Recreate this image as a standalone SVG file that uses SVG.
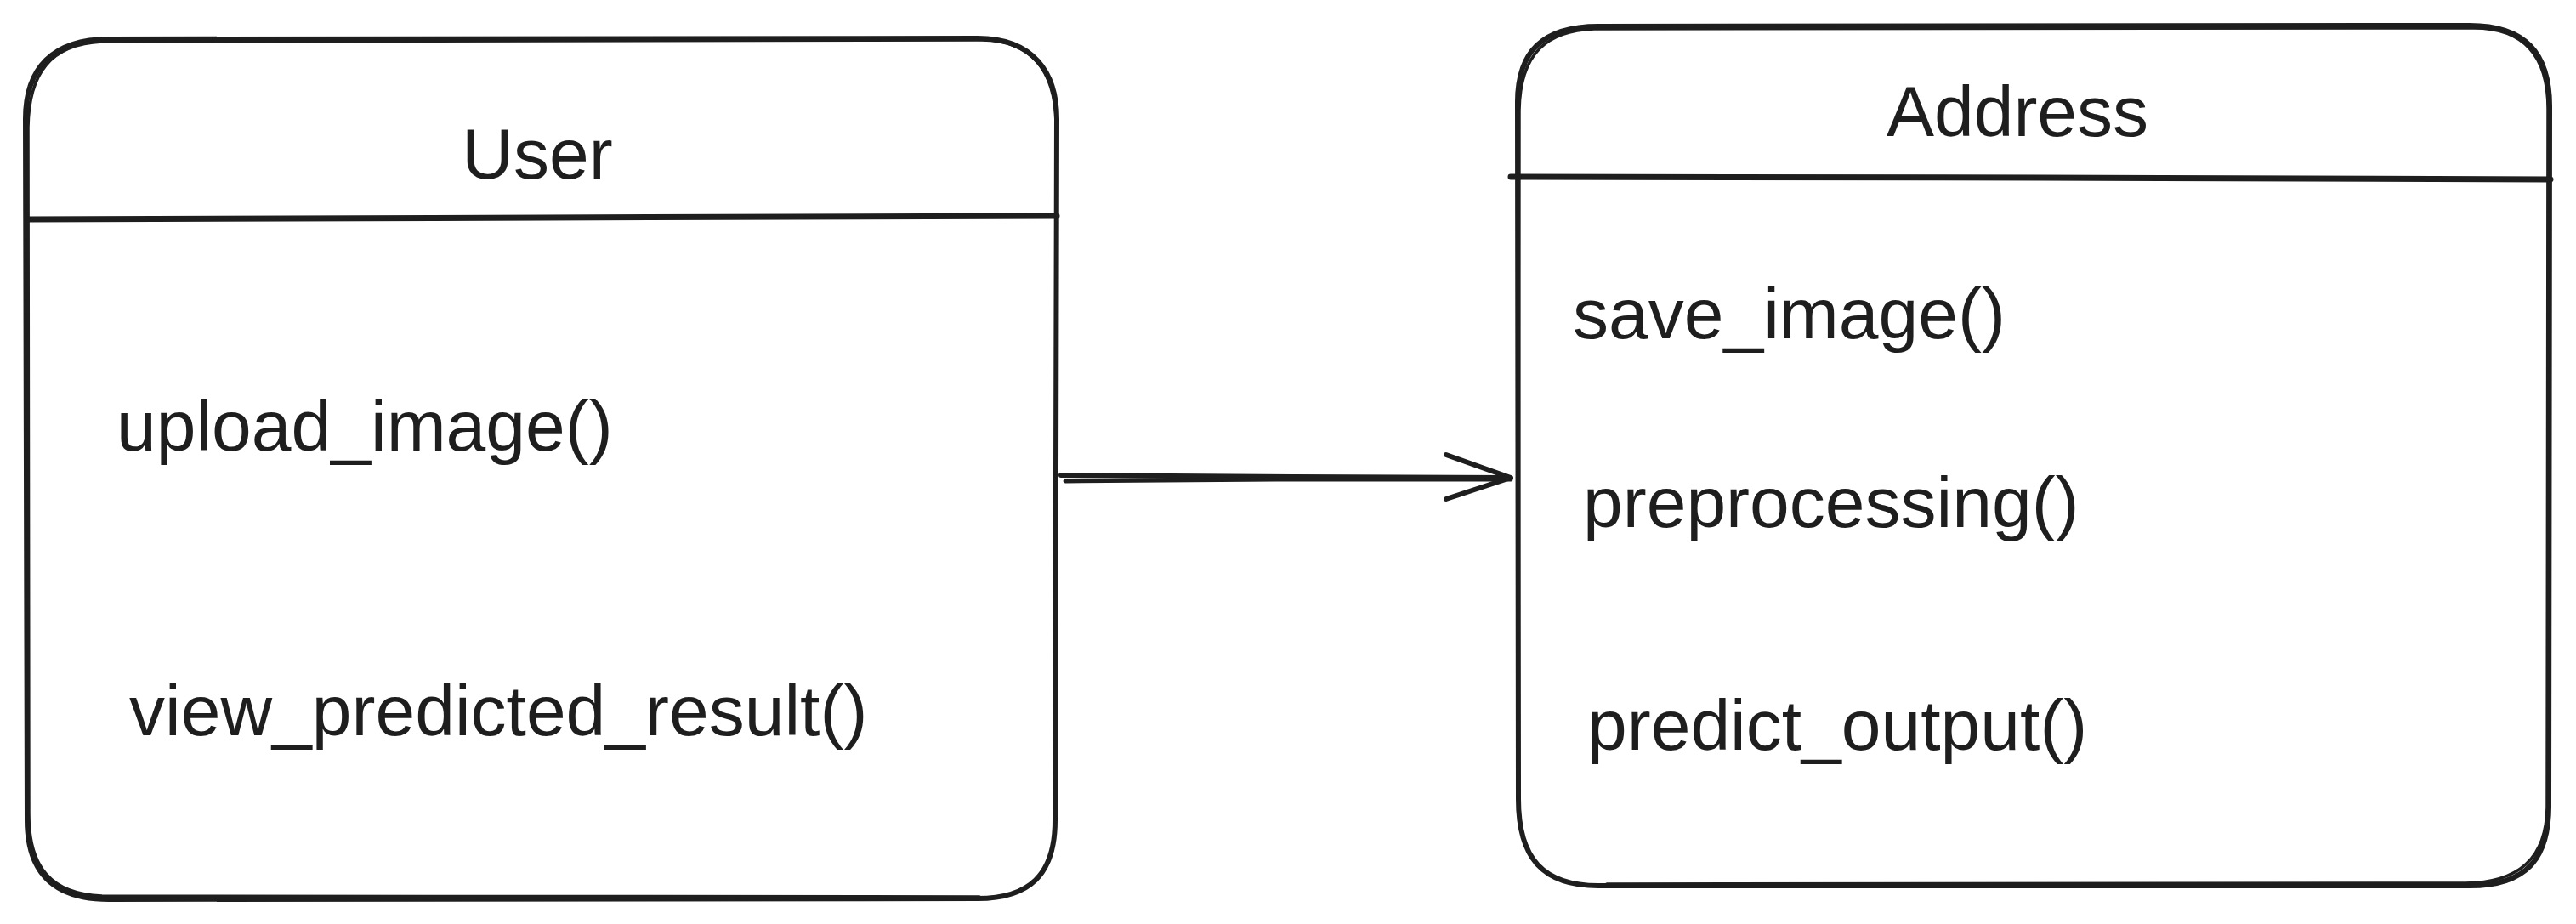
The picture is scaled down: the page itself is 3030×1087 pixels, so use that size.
<svg xmlns="http://www.w3.org/2000/svg" width="3030" height="1087" viewBox="0 0 3030 1087">
  <style>
    .edge { fill: none; stroke: #1e1e1e; stroke-linecap: round; stroke-linejoin: round; }
    .main { stroke-width: 6; }
    .thin { stroke-width: 3.5; }
    .txt { font-family: "Liberation Sans", Arial, Helvetica, sans-serif; font-size: 84px; fill: #1e1e1e; }
  </style>
  <rect x="0" y="0" width="3030" height="1087" fill="#ffffff"/>

  <g id="node-user">
    <path class="edge main" d="M 128 46 L 1150 45 C 1215 45 1243 85 1243 140 L 1241 965 C 1241 1030 1210 1057 1150 1057 L 128 1058 C 62 1058 32 1025 32 965 L 30 140 C 30 80 62 46 128 46 Z"/>
    <path class="edge thin" d="M 120 49 L 1155 47 C 1212 48 1241 82 1242 145 L 1243 960 M 1152 1055 L 120 1054 C 60 1052 34 1020 34 958 L 33 150 C 34 85 60 52 120 49"/>
    <path class="edge" d="M 33 258 L 640 256 L 1243 254" style="stroke-width:7"/>
    <text class="txt" x="632" y="210" text-anchor="middle">User</text>
    <text class="txt" x="137" y="530">upload_image()</text>
    <text class="txt" x="152" y="865">view_predicted_result()</text>
  </g>

  <g id="node-address">
    <path class="edge main" d="M 1880 31 L 2905 30 C 2970 30 2999 62 2999 125 L 2998 945 C 2999 1012 2970 1042 2905 1042 L 1880 1042 C 1815 1042 1786 1010 1786 940 L 1785 120 C 1785 60 1815 31 1880 31 Z"/>
    <path class="edge thin" d="M 1875 34 L 2910 33 C 2968 33 2997 65 2997 128 L 2996 950 C 2995 1008 2965 1038 2900 1039 L 1890 1040 M 1786 950 L 1787 130 C 1788 62 1820 36 1875 34"/>
    <path class="edge" d="M 1777 208 L 2400 209 L 3000 211" style="stroke-width:7"/>
    <text class="txt" x="2373" y="160" text-anchor="middle">Address</text>
    <text class="txt" x="1850" y="398">save_image()</text>
    <text class="txt" x="1862" y="620">preprocessing()</text>
    <text class="txt" x="1867" y="882">predict_output()</text>
  </g>

  <g id="connectors">
    <path class="edge" style="stroke-width:6" d="M 1248 559 L 1520 561 L 1775 562"/>
    <path class="edge" style="stroke-width:5" d="M 1253 566 L 1500 564 L 1777 564"/>
    <path class="edge" style="stroke-width:6" d="M 1701 535 L 1777 562 L 1701 587"/>
  </g>
</svg>
